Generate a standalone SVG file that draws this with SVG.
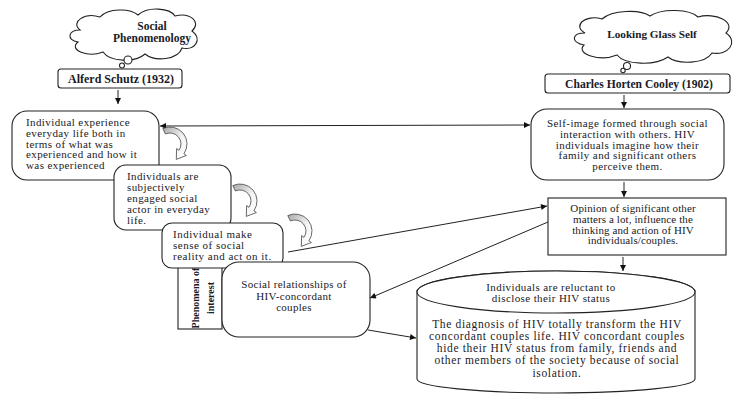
<svg xmlns="http://www.w3.org/2000/svg" width="741" height="394" viewBox="0 0 741 394">
<style>
.bx{fill:#fff;stroke:#222;stroke-width:1.1}
.t{font-family:"Liberation Serif","Times New Roman",serif;font-size:11px;fill:#1a1a26}
.b{font-weight:bold}
.c{text-anchor:middle}
.cn{stroke:#222;stroke-width:1;fill:none}
.ca{fill:url(#g);stroke:#444;stroke-width:0.8}
.big{font-size:11.5px;letter-spacing:0.65px}
.w4{letter-spacing:0.4px}
.w3{letter-spacing:0.3px}
</style>
<defs>
<marker id="ah" viewBox="0 0 10 10" refX="10" refY="5" markerWidth="7" markerHeight="6" markerUnits="userSpaceOnUse" orient="auto-start-reverse"><path d="M0,0 L10,5 L0,10 z" fill="#111"/></marker>
<linearGradient id="g" x1="0" y1="0" x2="1" y2="1"><stop offset="0" stop-color="#a8a8a8"/><stop offset="0.55" stop-color="#f4f4f4"/><stop offset="1" stop-color="#fff"/></linearGradient>
<path id="curv" d="M162.8 128.6 A17 17 0 0 1 183.9 153.8 L186.4 155.5 L176.3 159.4 L176.6 148.6 L179 150.3 A11 11 0 0 0 165.4 134 Z"/>
</defs>

<g id="cloud1">
<path class="bx" d="M80 30 C70 22,85 12,100 17 C108 8,130 8,138 15 C148 6,170 8,175 16 C190 12,202 22,192 31 C203 39,195 51,182 48 C178 60,155 62,145 54 C135 63,110 62,103 52 C88 58,68 50,78 42 C66 40,68 30,80 30 Z"/>
<circle class="bx" cx="128" cy="60" r="4"/>
<circle class="bx" cx="122" cy="65.5" r="2.5"/>
<text class="t b c" x="152" y="30" style="font-size:11.5px">Social</text>
<text class="t b c" x="152" y="42" style="font-size:11.5px">Phenomenology</text>
</g>

<g id="cloud2">
<path class="bx" d="M585 33 C572 26,585 14,602 19 C612 10,640 9,650 16 C662 8,690 9,698 17 C715 12,737 22,726 33 C739 42,728 56,712 53 C705 64,678 65,668 57 C655 66,625 65,617 55 C600 62,575 54,584 45 C570 42,572 33,585 33 Z"/>
<circle class="bx" cx="627" cy="66" r="3.5"/>
<circle class="bx" cx="623" cy="70.5" r="2.2"/>
<text class="t b c" x="652" y="38" style="font-size:11.2px">Looking Glass Self</text>
</g>

<g id="schutz">
<rect class="bx" x="58" y="69" width="124" height="19" rx="3"/>
<text class="t b c" x="121" y="83" style="font-size:12px">Alferd Schutz (1932)</text>
</g>

<g id="cooley">
<rect class="bx" x="545" y="74" width="185" height="19" rx="3"/>
<text class="t b c" x="639" y="87.5" style="font-size:11.6px">Charles Horten Cooley (1902)</text>
</g>

<g id="box1">
<rect class="bx" x="12" y="111" width="147" height="69" rx="15"/>
<text class="t w4" x="26" y="126">Individual experience</text>
<text class="t w4" x="26" y="136.8">everyday life both in</text>
<text class="t w4" x="26" y="147.6">terms of what was</text>
<text class="t w4" x="26" y="158.4">experienced and how it</text>
<text class="t w4" x="26" y="169.2">was experienced</text>
</g>

<g id="box2">
<rect class="bx" x="114" y="165" width="117" height="65" rx="12"/>
<text class="t w4" x="127" y="180">Individuals are</text>
<text class="t w4" x="127" y="191">subjectively</text>
<text class="t w4" x="127" y="202">engaged social</text>
<text class="t w4" x="127" y="213">actor in everyday</text>
<text class="t w4" x="127" y="224">life.</text>
</g>

<g id="phenomena">
<rect class="bx" x="178" y="262" width="44" height="67"/>
<text class="t b c" style="font-size:10px" transform="translate(199,298) rotate(-90)">Phenomena of</text>
<text class="t b c" style="font-size:10px" transform="translate(214,298) rotate(-90)">interest</text>
</g>

<g id="box3">
<rect class="bx" x="162" y="223" width="121" height="45" rx="10"/>
<text class="t" x="173" y="237.5" style="letter-spacing:0.5px">Individual make</text>
<text class="t" x="173" y="248.5" style="letter-spacing:0.5px">sense of social</text>
<text class="t" x="173" y="259.5" style="letter-spacing:0.5px">reality and act on it.</text>
</g>

<g id="box4">
<rect class="bx" x="222" y="262" width="148" height="75" rx="17"/>
<text class="t c w3" x="294" y="288">Social relationships of</text>
<text class="t c w3" x="294" y="299.5">HIV-concordant</text>
<text class="t c w3" x="294" y="311">couples</text>
</g>

<g id="selfimage">
<rect class="bx" x="531" y="109" width="193" height="71" rx="16"/>
<text class="t c w4" x="627.5" y="127">Self-image formed through social</text>
<text class="t c w4" x="627.5" y="137.8">interaction with others. HIV</text>
<text class="t c w4" x="627.5" y="148.6">individuals imagine how their</text>
<text class="t c w4" x="627.5" y="159.4">family and significant others</text>
<text class="t c w4" x="627.5" y="170.2">perceive them.</text>
</g>

<g id="opinion">
<rect class="bx" x="548" y="198" width="178" height="57"/>
<text class="t c" x="633" y="212" style="letter-spacing:0.1px">Opinion of significant other</text>
<text class="t c" x="633" y="222.8" style="letter-spacing:0.1px">matters a lot, influence the</text>
<text class="t c" x="633" y="233.6" style="letter-spacing:0.1px">thinking and action of HIV</text>
<text class="t c" x="633" y="244.4" style="letter-spacing:0.1px">individuals/couples.</text>
</g>

<g id="cylinder">
<path class="bx" d="M417 292 A139 21 0 0 1 695 292 L695 379 A139 14 0 0 1 417 379 Z"/>
<ellipse class="bx" cx="556" cy="292" rx="139" ry="21"/>
<text class="t c w4" x="551" y="291">Individuals are reluctant to</text>
<text class="t c w4" x="551" y="302">disclose their HIV status</text>
<text class="t c big" x="557" y="327.5">The diagnosis of HIV totally transform the HIV</text>
<text class="t c big" x="557" y="339.8">concordant couples life. HIV concordant couples</text>
<text class="t c big" x="557" y="352.1">hide their HIV status from family, friends and</text>
<text class="t c big" x="557" y="364.4">other members of the society because of social</text>
<text class="t c big" x="557" y="376.7">isolation.</text>
</g>

<g id="connectors">
<line class="cn" x1="118" y1="90" x2="118" y2="104" marker-end="url(#ah)"/>
<line class="cn" x1="624" y1="95" x2="624" y2="108" marker-end="url(#ah)"/>
<line class="cn" x1="624" y1="182" x2="624" y2="197" marker-end="url(#ah)"/>
<line class="cn" x1="623" y1="257" x2="623" y2="271" marker-end="url(#ah)"/>
<line class="cn" x1="160" y1="126" x2="530" y2="125" marker-start="url(#ah)" marker-end="url(#ah)"/>
<line class="cn" x1="288" y1="252" x2="547" y2="206" marker-end="url(#ah)"/>
<line class="cn" x1="548" y1="222" x2="370" y2="298" marker-end="url(#ah)"/>
<line class="cn" x1="368" y1="330" x2="416" y2="338" marker-end="url(#ah)"/>
<use href="#curv" class="ca"/>
<use href="#curv" class="ca" transform="translate(70,57)"/>
<use href="#curv" class="ca" transform="translate(125,87)"/>
</g>
</svg>
